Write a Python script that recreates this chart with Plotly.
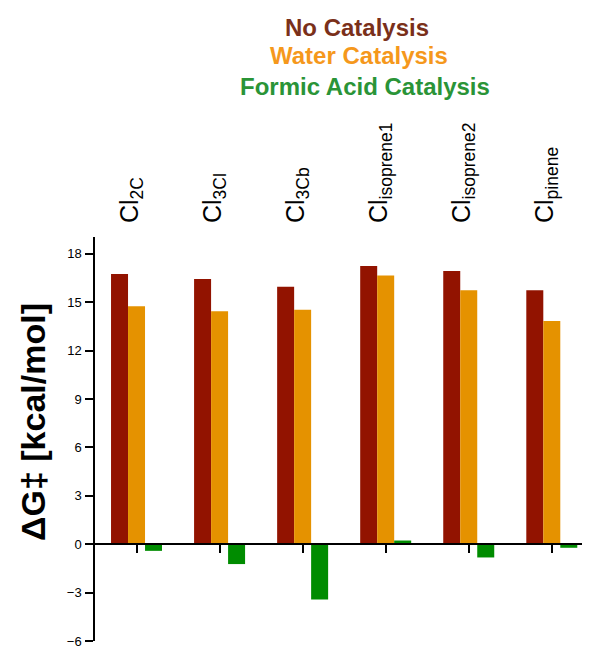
import plotly.graph_objects as go

categories = ["Cl<sub>2C</sub>", "Cl<sub>3Cl</sub>", "Cl<sub>3Cb</sub>",
              "Cl<sub>isoprene1</sub>", "Cl<sub>isoprene2</sub>", "Cl<sub>pinene</sub>"]
no_catalysis = [16.76, 16.45, 15.96, 17.25, 16.94, 15.75]
water_catalysis = [14.75, 14.44, 14.54, 16.66, 15.75, 13.84]
formic_catalysis = [-0.41, -1.23, -3.43, 0.23, -0.82, -0.22]
ytick_vals = [-6, -3, 0, 3, 6, 9, 12, 15, 18]

series_names = ["No Catalysis", "Water Catalysis", "Formic Acid Catalysis"]
bar_colors = ["#921300", "#E59200", "#008C00"]
label_colors = ["#7A301A", "#F5981C", "#2A9437"]

OFF = 8  # page body margin
W, H = 590 - OFF, 650 - OFF
ML, MR, MT, MB = 95 - OFF, 0, 237 - OFF, 9
YMIN, YMAX = -6, 19.05
FONT = "Liberation Sans, Arial, Helvetica, sans-serif"

fig = go.Figure()
xs = list(range(len(categories)))
for name, vals, col in zip(series_names, [no_catalysis, water_catalysis, formic_catalysis], bar_colors):
    fig.add_trace(go.Bar(x=xs, y=vals, name=name, marker=dict(color=col, line=dict(width=0)),
                         showlegend=False))

# invisible trace for top category labels
fig.add_trace(go.Scatter(x=xs, y=[None]*len(xs), xaxis="x2", showlegend=False, hoverinfo="skip"))

plot_h = H - MT - MB
plot_w = W - ML - MR
LABEL_SHIFT = 0.085

fig.update_layout(
    width=W, height=H,
    margin=dict(l=ML, r=MR, t=MT, b=MB, autoexpand=False),
    plot_bgcolor="white", paper_bgcolor="white",
    barmode="group", bargap=0.386, bargroupgap=0,
    font=dict(family=FONT, color="black"),
    xaxis=dict(
        range=[-0.5, 5.46], tickvals=xs, ticktext=[""]*len(xs),
        anchor="free", position=(0 - YMIN) / (YMAX - YMIN),
        showline=True, linecolor="black", linewidth=1.5,
        ticks="outside", ticklen=8, tickwidth=1.5, tickcolor="black",
        showgrid=False, zeroline=False, automargin=False,
    ),
    xaxis2=dict(
        range=[-0.5 + LABEL_SHIFT, 5.46 + LABEL_SHIFT], overlaying="x", side="top", anchor="y",
        tickvals=xs, ticktext=categories, tickangle=-90,
        tickfont=dict(size=25, family=FONT, color="black"),
        ticks="outside", ticklen=8, tickcolor="rgba(0,0,0,0)",
        showline=False, showgrid=False, zeroline=False, automargin=False,
    ),
    yaxis=dict(
        range=[YMIN, YMAX], tickvals=ytick_vals,
        showline=True, linecolor="black", linewidth=1.5,
        ticks="outside", ticklen=8, tickwidth=1.5, tickcolor="black",
        ticklabelstandoff=1, ticklabeloverflow="allow",
        tickfont=dict(size=13, family=FONT, color="black"),
        showgrid=False, zeroline=False, automargin=False,
    ),
)

# y-axis title
fig.add_annotation(
    text="<b>ΔG‡ [kcal/mol]</b>", xref="paper", yref="paper",
    x=(33 - OFF - ML) / plot_w, y=(H - MB - (422 - OFF)) / plot_h,
    xanchor="center", yanchor="middle", textangle=-90, showarrow=False,
    font=dict(size=34, family=FONT, color="black"),
)

legend_y_px = [27, 55, 87]
legend_x_px = [357, 359, 365]
for name, col, xp, yp in zip(series_names, label_colors, legend_x_px, legend_y_px):
    fig.add_annotation(
        text=f"<b>{name}</b>", xref="paper", yref="paper",
        x=(xp - OFF - ML) / plot_w, y=(H - MB - (yp - OFF)) / plot_h,
        xanchor="center", yanchor="middle", showarrow=False,
        font=dict(size=24, family=FONT, color=col),
    )

fig.write_html("out.html")
